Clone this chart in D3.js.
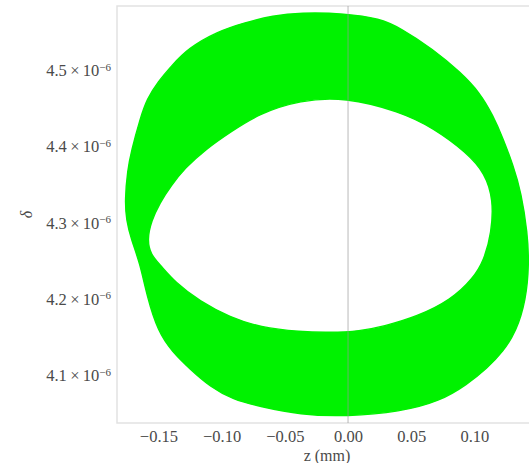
<!DOCTYPE html>
<html>
<head>
<meta charset="utf-8">
<script src="https://cdn.jsdelivr.net/npm/d3@7"></script>
<style>
  html, body { margin: 0; padding: 0; background: #fff; overflow: hidden; }
  svg { display: block; }
</style>
</head>
<body>
<svg id="chart" width="529" height="463"></svg>
<script>
// Longitudinal phase space: bunch occupies a ring in (z, δ)
// Outer edge of the ring
const outerZ = [-0.038, -0.0024, 0.0253, 0.0411, 0.0672, 0.0894, 0.1042, 0.1147, 0.1226, 0.1305,
  0.1370, 0.1420, 0.1432, 0.1408, 0.1330, 0.1226, 0.1100, 0.0942, 0.0728, 0.0411,
  -0.0008, -0.038, -0.0696, -0.0910, -0.1092, -0.1250, -0.1392, -0.1503, -0.1590, -0.1646,
  -0.1715, -0.1755, -0.1765, -0.1745, -0.1715, -0.1645, -0.1590, -0.1505, -0.1392, -0.1266,
  -0.1036, -0.0815, -0.0593];
const outerDelta = [4.576, 4.575, 4.568, 4.556, 4.528, 4.497, 4.471, 4.441, 4.411, 4.376,
  4.340, 4.287, 4.245, 4.199, 4.157, 4.131, 4.109, 4.088, 4.066, 4.052,
  4.046, 4.048, 4.059, 4.068, 4.085, 4.108, 4.131, 4.157, 4.203, 4.247,
  4.278, 4.304, 4.330, 4.369, 4.394, 4.437, 4.463, 4.485, 4.507, 4.529,
  4.551, 4.563, 4.572].map(v => v * 1e-6);

// Inner edge of the ring (empty core)
const innerZ = [-0.1590, -0.1555, -0.1490, -0.1400, -0.1290, -0.1131, -0.0933, -0.0696, -0.038, -0.0024,
  0.0411, 0.0672, 0.0941, 0.1084, 0.1150, 0.1135, 0.1076, 0.0989, 0.0815, 0.0546,
  0.0277, 0.0095, -0.0142, -0.038, -0.0696, -0.0933, -0.1172, -0.1369, -0.1487, -0.1560];
const innerDelta = [4.278, 4.303, 4.326, 4.349, 4.372, 4.396, 4.419, 4.444, 4.461, 4.465,
  4.446, 4.425, 4.392, 4.365, 4.330, 4.287, 4.251, 4.227, 4.199, 4.177,
  4.164, 4.158, 4.156, 4.157, 4.163, 4.176, 4.197, 4.222, 4.245, 4.258].map(v => v * 1e-6);

const xTicks = [-0.15, -0.10, -0.05, 0.00, 0.05, 0.10];
const yTicks = [4.1e-6, 4.2e-6, 4.3e-6, 4.4e-6, 4.5e-6];
const xDomain = [-0.1828, 0.1495];
const yDomain = [4.0374e-6, 4.5846e-6];

const plot = { left: 117, right: 537, top: 6, bottom: 423 };
const serif = "'Liberation Serif', 'Times New Roman', 'DejaVu Serif', serif";
const textColor = "#4a4a4a";
const svg = d3.select("#chart");

const x = d3.scaleLinear().domain(xDomain).range([plot.left, plot.right]);
const y = d3.scaleLinear().domain(yDomain).range([plot.bottom, plot.top]);

// Frame
svg.append("rect")
  .attr("x", plot.left).attr("y", plot.top)
  .attr("width", plot.right - plot.left).attr("height", plot.bottom - plot.top)
  .attr("fill", "none").attr("stroke", "#e2e2e2").attr("stroke-width", 1.5);

// Ring as a filled region between outer and inner edges
const ringLine = d3.line()
  .x(d => x(d[0])).y(d => y(d[1]))
  .curve(d3.curveBasisClosed);
const outerPts = outerZ.map((z, i) => [z, outerDelta[i]]);
const innerPts = innerZ.map((z, i) => [z, innerDelta[i]]);
svg.append("path")
  .attr("d", ringLine(outerPts) + ringLine(innerPts))
  .attr("fill", "#00f200")
  .attr("fill-rule", "evenodd")
  .attr("stroke", "#00f200")
  .attr("stroke-width", 1.4)
  .attr("stroke-linejoin", "round");

// Reference line at z = 0
svg.append("line")
  .attr("x1", x(0)).attr("x2", x(0))
  .attr("y1", plot.top).attr("y2", plot.bottom)
  .attr("stroke", "#999").attr("stroke-opacity", 0.45).attr("stroke-width", 1.5);

// X axis
const xAxis = svg.append("g")
  .attr("transform", `translate(0,${plot.bottom})`)
  .call(d3.axisBottom(x).tickValues(xTicks).tickSize(0).tickPadding(7)
    .tickFormat(d => d3.format(".2f")(d).replace("-", "\u2212")));
xAxis.select(".domain").remove();
xAxis.selectAll("text")
  .style("font-family", serif).style("font-size", "16.5px").style("fill", textColor);

// Y axis with scientific tick labels
const yAxis = svg.append("g")
  .attr("transform", `translate(${plot.left},0)`)
  .call(d3.axisLeft(y).tickValues(yTicks).tickSize(0).tickPadding(6).tickFormat(""));
yAxis.select(".domain").remove();
yAxis.selectAll(".tick text").each(function(d) {
  const t = d3.select(this)
    .style("font-family", serif).style("font-size", "16.5px").style("fill", textColor);
  t.text(null);
  t.append("tspan").text((d * 1e6).toFixed(1) + "\u2009\u00d7\u200910");
  t.append("tspan").attr("dy", "-0.5em").style("font-size", "11px").text("\u22126");
});

// Axis titles
svg.append("text")
  .attr("x", (plot.left + plot.right) / 2).attr("y", 461)
  .attr("text-anchor", "middle")
  .style("font-family", serif).style("font-size", "16px").style("fill", textColor)
  .text("z (mm)");
svg.append("text")
  .attr("transform", `translate(32,${(plot.top + plot.bottom) / 2}) rotate(-90)`)
  .attr("text-anchor", "middle")
  .style("font-family", serif).style("font-size", "16px").style("font-style", "italic").style("fill", textColor)
  .text("\u03b4");
</script>
</body>
</html>
